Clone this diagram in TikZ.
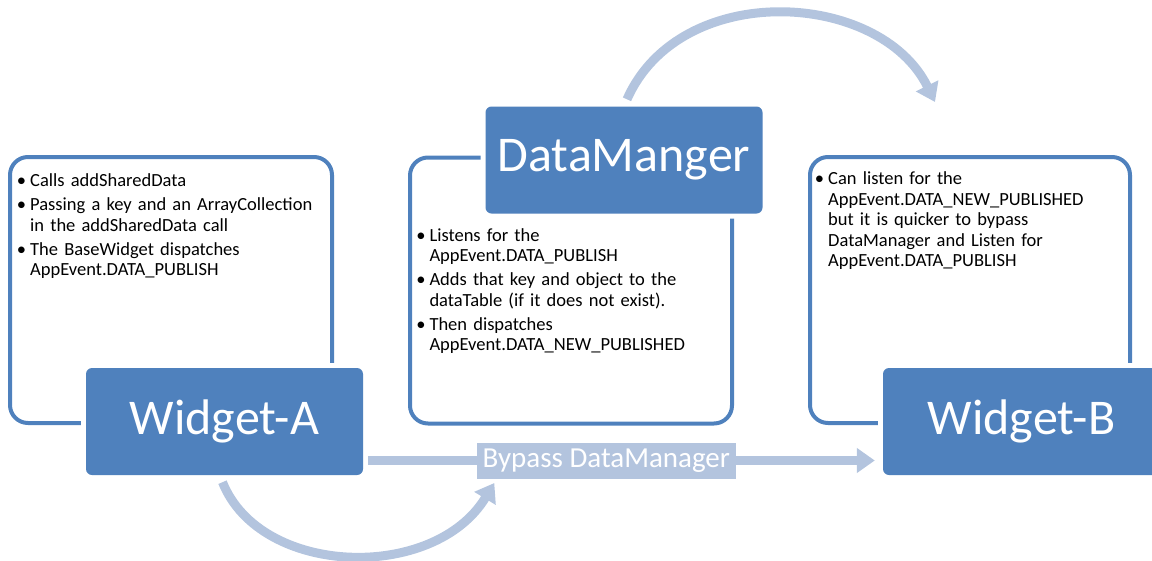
\documentclass[tikz,border=0pt]{standalone}
\usepackage{fontspec}
\setmainfont{Carlito}
\usepackage{enumitem}
\usetikzlibrary{arrows.meta}
\definecolor{accblue}{RGB}{79,129,189}
\definecolor{paleblue}{RGB}{179,196,222}
\newenvironment{notelist}{\begin{itemize}[label=\textbullet,leftmargin=11pt,labelsep=4pt,itemsep=3.5pt,topsep=0pt,partopsep=0pt,parsep=0pt]}{\end{itemize}}
\begin{document}
\begin{tikzpicture}[x=1pt,y=-1pt,line join=round,
	frame/.style={draw=accblue,line width=4pt,rounded corners=18pt,minimum width=#1,minimum height=266pt,inner sep=0pt},
	widget/.style={fill=accblue,text=white,rounded corners=6pt,minimum width=277pt,minimum height=107pt,inner sep=0pt,font=\fontsize{50}{52}\selectfont,preaction={draw=white,line width=10pt}},
	notes/.style={anchor=north west,text width=300pt,inner sep=0pt,align=left,font=\fontsize{18.5}{20.5}\selectfont},
	light/.style={draw=paleblue,line width=9pt,-{Triangle[length=18pt,width=24pt]}},
	bypassbox/.style={fill=paleblue,text=white,minimum width=259pt,minimum height=36pt,inner sep=0pt,font=\fontsize{29}{30}\selectfont}]
	\useasboundingbox (0,0) rectangle (1152,560);
	\node[frame=322pt] (frameA) at (171,290) {};
	\node[frame=322pt] (frameM) at (571,290.5) {};
	\node[frame=320pt] (frameB) at (970,290) {};
	\node[widget] (widgetA) at (224.5,421.5) {Widget-A};
	\node[widget] (dm) at (624,160) {DataManger};
	\node[widget] (widgetB) at (1021.5,421.5) {Widget-B};
	\node[notes] (txtA) at ([shift={(11,11)}]frameA.north west) {\begin{notelist}
		\item Calls addSharedData
		\item Passing a key and an ArrayCollection\\in the addSharedData call
		\item The BaseWidget dispatches\\AppEvent.DATA\_PUBLISH
	\end{notelist}};
	\node[notes] (txtM) at ([shift={(-67,7)}]dm.south west) {\begin{notelist}
		\item Listens for the\\AppEvent.DATA\_PUBLISH
		\item Adds that key and object to the\\dataTable (if it does not exist).
		\item Then dispatches\\AppEvent.DATA\_NEW\_PUBLISHED
	\end{notelist}};
	\node[notes] (txtB) at ([shift={(9,9)}]frameB.north west) {\begin{notelist}
		\item Can listen for the\\AppEvent.DATA\_NEW\_PUBLISHED\\but it is quicker to bypass\\DataManager and Listen for\\AppEvent.DATA\_PUBLISH
	\end{notelist}};
	\coordinate (arcend) at (935,102);
	\draw[light] ([shift={(5,39)}]widgetA.east) -- node[bypassbox,pos=0.47] (bypass) {Bypass DataManager} ([shift={(-8,39)}]widgetB.west);
	\draw[light] ([shift={(-2,7)}]widgetA.south) .. controls +(38,95) and +(-60,99) .. ([shift={(22,0)}]bypass.south west);
	\draw[light] ([shift={(3,-7)}]dm.north) .. controls +(53,-120) and +(-55,-112) .. (arcend);
\end{tikzpicture}
\end{document}
